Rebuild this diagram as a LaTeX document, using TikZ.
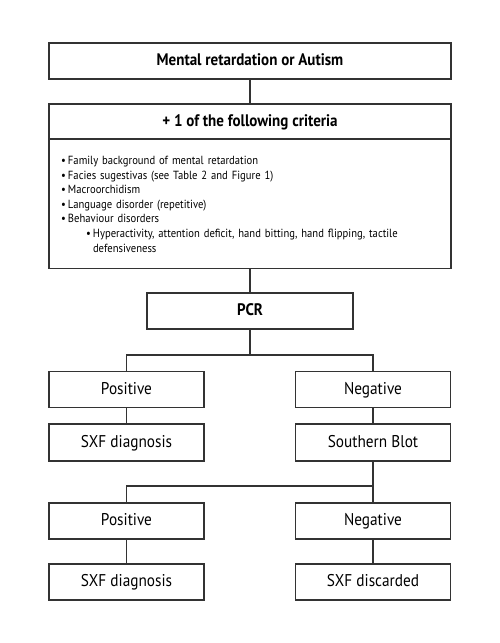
\documentclass[tikz,border=0pt]{standalone}
\usepackage{fontspec}
\setmainfont[FakeStretch=0.9]{PT Sans}
\begin{document}
\begin{tikzpicture}[x=1pt,y=1pt,
  box/.style={draw=black!80, line width=1.2pt, rectangle, inner sep=0pt, minimum height=36pt, align=center, text height=12pt, text depth=3pt, font=\fontsize{17}{20}\selectfont},
  wide/.style={box, minimum width=402pt},
  half/.style={box, minimum width=155pt},
  conn/.style={draw=black!80, line width=1.2pt},
  lbl/.style={font=\bfseries\fontsize{16.7}{20}\selectfont}]
\useasboundingbox (0,0) rectangle (500,-643);
\fill[white] (0,0) rectangle (500,-643);
\node[wide, lbl] (top) at (250,-61) {Mental retardation or Autism};
\node[wide, lbl, minimum height=35pt] (crit) at (250,-121.5) {+ 1 of the following criteria};
\node[draw=black!80, line width=1.2pt, rectangle, minimum width=402pt, minimum height=129pt, anchor=north, align=left, text width=378pt, inner xsep=12pt, inner ysep=0pt, font=\fontsize{11.8}{14.6}\selectfont] (body) at (250,-139) {%
\makebox[7pt][l]{\textbullet}Family background of mental retardation\\
\makebox[7pt][l]{\textbullet}Facies sugestivas (see Table 2 and Figure 1)\\
\makebox[7pt][l]{\textbullet}Macroorchidism\\
\makebox[7pt][l]{\textbullet}Language disorder (repetitive)\\
\makebox[7pt][l]{\textbullet}Behaviour disorders\\
\hspace*{25pt}\makebox[7pt][l]{\textbullet}Hyperactivity, attention deficit, hand bitting, hand flipping, tactile\\
\hspace*{32pt}defensiveness};
\node[box, lbl, minimum width=206pt] (pcr) at (250,-311) {PCR};
\node[half] (pos1) at (126.5,-389.5) {Positive};
\node[half] (neg1) at (373,-389.5) {Negative};
\node[half, minimum height=37pt] (sxf1) at (126.5,-442.5) {SXF diagnosis};
\node[half, minimum height=37pt] (sb) at (373,-442.5) {Southern Blot};
\node[half] (pos2) at (126.5,-521) {Positive};
\node[half] (neg2) at (373,-521) {Negative};
\node[half] (sxf2) at (126.5,-582) {SXF diagnosis};
\node[half] (disc) at (373,-582) {SXF discarded};
\coordinate (b1) at (250,-355);
\coordinate (b2) at (373,-486);
\draw[conn] (top.south) -- (crit.north);
\draw[conn] (body.south) -- (pcr.north);
\draw[conn] (pcr.south) -- (b1);
\draw[conn] (b1) -| (pos1.north);
\draw[conn] (b1) -| (neg1.north);
\draw[conn] (pos1.south) -- (sxf1.north);
\draw[conn] (neg1.south) -- (sb.north);
\draw[conn] (sb.south) -- (neg2.north);
\draw[conn] (b2) -| (pos2.north);
\draw[conn] (pos2.south) -- (sxf2.north);
\draw[conn] (neg2.south) -- (disc.north);
\end{tikzpicture}
\end{document}
